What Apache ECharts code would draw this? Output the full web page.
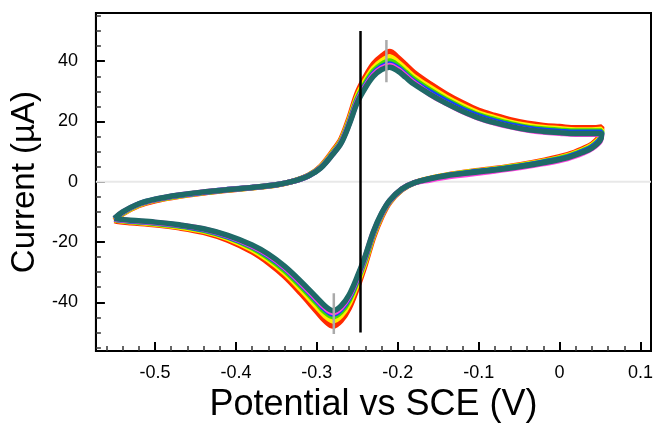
<!DOCTYPE html>
<html>
<head>
<meta charset="utf-8">
<script src="https://cdn.jsdelivr.net/npm/echarts@6/dist/echarts.min.js"></script>
<style>html,body{margin:0;padding:0;background:#fff}#chart{width:656px;height:428px}</style>
</head>
<body>
<div id="chart"></div>
<script>
// Potential (V) for one full cycle: forward scan then reverse scan
const potential = [
  -0.55,-0.54,-0.52,-0.50,-0.47,-0.44,-0.41,-0.38,-0.35,-0.33,-0.31,-0.295,-0.28,-0.27,-0.26,-0.25,-0.24,-0.23,-0.22,-0.21,-0.20,-0.19,-0.18,-0.16,-0.14,-0.12,-0.10,-0.08,-0.06,-0.04,-0.02,0.00,0.02,0.04,0.052,
  0.05,0.04,0.03,0.01,-0.02,-0.05,-0.08,-0.11,-0.14,-0.16,-0.18,-0.195,-0.21,-0.22,-0.23,-0.24,-0.25,-0.26,-0.27,-0.28,-0.29,-0.30,-0.32,-0.34,-0.36,-0.38,-0.41,-0.44,-0.47,-0.50,-0.53,-0.545,-0.55
];
// Current (µA) for each cycle
const cycleRed = [
  -12.9,-10.7,-7.9,-6.3,-4.8,-3.7,-2.8,-2.0,-1.1,0.1,2.2,5.2,10.3,14.3,21.3,29.5,34.9,39.2,41.7,43.2,41.3,38.8,36.3,32.5,29.1,26.2,23.7,22.0,20.5,19.4,18.7,18.3,17.9,17.9,18.2,
  15.2,12.5,11.1,9.0,7.1,5.6,4.4,3.4,2.2,1.1,-0.4,-2.7,-6.9,-11.8,-18.5,-27.4,-35.3,-42.0,-46.1,-47.9,-46.1,-43.1,-37.0,-31.4,-26.9,-23.3,-19.4,-16.8,-15.3,-14.3,-13.6,-13.2,-12.9
];
const cycleYellow = [
  -12.6,-10.5,-7.7,-6.1,-4.7,-3.6,-2.7,-2.0,-1.1,0.1,2.1,5.0,9.9,13.8,20.5,28.4,33.6,37.7,40.1,41.4,39.7,37.3,34.9,31.3,28.0,25.2,22.8,21.2,19.7,18.7,18.0,17.6,17.2,17.2,17.4,
  14.6,12.1,10.7,8.7,6.8,5.4,4.2,3.3,2.1,1.1,-0.4,-2.6,-6.7,-11.3,-17.8,-26.4,-34.0,-40.4,-44.4,-46.1,-44.4,-41.5,-35.6,-30.2,-25.9,-22.5,-18.8,-16.4,-15.0,-14.0,-13.3,-12.9,-12.6
];
const cycleGreen = [
  -12.4,-10.3,-7.5,-6.0,-4.6,-3.5,-2.7,-1.9,-1.0,0.1,2.1,4.8,9.6,13.4,19.9,27.6,32.7,36.7,39.0,40.1,38.6,36.3,34.0,30.4,27.2,24.5,22.2,20.6,19.2,18.1,17.5,17.1,16.8,16.8,16.8,
  14.2,11.7,10.4,8.4,6.6,5.2,4.1,3.2,2.1,1.0,-0.4,-2.5,-6.5,-11.0,-17.3,-25.7,-33.0,-39.3,-43.2,-44.8,-43.2,-40.3,-34.6,-29.4,-25.2,-21.9,-18.4,-16.1,-14.7,-13.8,-13.1,-12.7,-12.4
];
const cycleBlue = [
  -12.3,-10.2,-7.4,-5.9,-4.5,-3.5,-2.6,-1.9,-1.0,0.1,2.0,4.7,9.4,13.1,19.5,27.0,32.0,35.9,38.2,39.1,37.8,35.5,33.3,29.8,26.7,24.0,21.8,20.1,18.8,17.8,17.1,16.7,16.4,16.4,16.4,
  14.0,11.5,10.2,8.2,6.5,5.1,4.0,3.1,2.0,1.0,-0.4,-2.5,-6.4,-10.8,-16.9,-25.1,-32.3,-38.5,-42.3,-43.9,-42.3,-39.5,-33.9,-28.7,-24.6,-21.5,-18.2,-15.9,-14.5,-13.6,-13.0,-12.6,-12.3
];
const cycleMagenta = [
  -12.2,-10.1,-7.4,-5.9,-4.4,-3.4,-2.6,-1.9,-1.0,0.1,2.0,4.7,9.3,13.0,19.3,26.7,31.6,35.5,37.7,38.6,37.3,35.1,32.9,29.0,26.0,23.3,21.1,19.5,18.2,17.2,16.5,16.1,15.8,15.8,15.8,
  13.4,11.0,9.6,7.7,6.0,4.7,3.6,2.6,1.6,0.6,-0.4,-2.4,-6.3,-10.7,-16.7,-24.8,-32.0,-38.0,-41.8,-43.4,-41.8,-39.1,-33.5,-28.4,-24.3,-21.3,-18.0,-15.7,-14.4,-13.5,-12.9,-12.5,-12.2
];
const cycleTeal = [
  -12.1,-10.0,-7.3,-5.8,-4.4,-3.4,-2.6,-1.9,-1.0,0.1,2.0,4.6,9.2,12.8,19.0,26.3,31.2,35.0,37.2,38.0,36.8,34.6,32.4,29.0,26.0,23.4,21.2,19.6,18.3,17.3,16.7,16.3,16.0,16.0,15.9,
  13.6,11.2,9.9,8.0,6.3,5.0,3.9,3.0,2.0,1.0,-0.4,-2.4,-6.2,-10.5,-16.5,-24.5,-31.5,-37.5,-41.2,-42.8,-41.2,-38.5,-33.0,-28.0,-24.0,-21.0,-17.8,-15.6,-14.3,-13.4,-12.8,-12.4,-12.1
];
const cycles = [cycleRed, cycleYellow, cycleGreen, cycleBlue, cycleMagenta, cycleTeal];
const cycleColors = ['#ff2a00', '#ffee00', '#44dd00', '#1040ff', '#ff40e0', '#1f6a68'];

// Reference lines (potential, [current from, current to])
const midLineX = -0.246, midLineY = [-50, 50];
const anodicPeakX = -0.214, anodicPeakY = [33, 47];
const cathodicPeakX = -0.279, cathodicPeakY = [-50.5, -37];

// Axes
const xRange = [-0.573, 0.113];
const yRange = [-56.2, 56];
const xMajorTicks = [-0.5, -0.4, -0.3, -0.2, -0.1, 0, 0.1];
const xMinorTicks = [-0.56,-0.54,-0.52,-0.48,-0.46,-0.44,-0.42,-0.38,-0.36,-0.34,-0.32,-0.28,-0.26,-0.24,-0.22,-0.18,-0.16,-0.14,-0.12,-0.08,-0.06,-0.04,-0.02,0.02,0.04,0.06,0.08];
const yMajorTicks = [-40, -20, 0, 20, 40];
const yMinorTicks = [-55,-50,-45,-35,-30,-25,-15,-10,-5,5,10,15,25,30,35,45,50,55];

const FONT = '"Liberation Sans", Arial, Helvetica, sans-serif';
const chart = echarts.init(document.getElementById('chart'));

const pair = (xs, ys) => xs.map((x, i) => [x, ys[i]]);
const series = [];
series.push({
  type: 'line', data: [[xRange[0], 0], [xRange[1], 0]], symbol: 'none', silent: true, z: 1,
  lineStyle: { color: '#e8e8e8', width: 2 }
});
cycles.forEach((c, i) => {
  series.push({
    type: 'line', data: pair(potential, c), symbol: 'none', smooth: 0.35, z: 2,
    lineStyle: { color: cycleColors[i], width: 5.5 }
  });
});
[[midLineX, midLineY, '#000000'], [anodicPeakX, anodicPeakY, '#aaaaaa'], [cathodicPeakX, cathodicPeakY, '#aaaaaa']].forEach(([x, ys, col]) => {
  series.push({
    type: 'line', data: [[x, ys[0]], [x, ys[1]]], symbol: 'none', z: 5,
    lineStyle: { color: col, width: 2.5 }
  });
});

chart.setOption({
  animation: false,
  grid: { left: 94, right: 5, top: 13, bottom: 74, show: true, borderColor: '#000', borderWidth: 2, backgroundColor: '#fff' },
  xAxis: [
    {
      type: 'value', min: xRange[0], max: xRange[1], position: 'bottom',
      name: 'Potential vs SCE (V)', nameLocation: 'middle', nameGap: 30,
      nameTextStyle: { fontFamily: FONT, fontSize: 36, color: '#000' },
      axisLine: { show: true, onZero: false, lineStyle: { color: '#000', width: 2 } },
      axisTick: { inside: true, length: 9, lineStyle: { color: '#000', width: 2 }, customValues: xMajorTicks },
      axisLabel: { customValues: xMajorTicks, margin: 13, fontFamily: FONT, fontSize: 18, color: '#000', formatter: v => String(v) },
      splitLine: { show: false }
    },
    {
      type: 'value', min: xRange[0], max: xRange[1], position: 'bottom',
      axisLine: { show: false, onZero: false },
      axisTick: { show: true, inside: true, length: 5, lineStyle: { color: '#333', width: 1.5 }, customValues: xMinorTicks },
      axisLabel: { show: false }, splitLine: { show: false }
    }
  ],
  yAxis: [
    {
      type: 'value', min: yRange[0], max: yRange[1], position: 'left',
      name: 'Current (µA)', nameLocation: 'middle', nameGap: 38,
      nameTextStyle: { fontFamily: FONT, fontSize: 33, color: '#000' },
      axisLine: { show: true, onZero: false, lineStyle: { color: '#000', width: 2 } },
      axisTick: { inside: true, length: 9, lineStyle: { color: '#000', width: 2 }, customValues: yMajorTicks },
      axisLabel: { customValues: yMajorTicks, margin: 18, fontFamily: FONT, fontSize: 18, color: '#000', formatter: v => String(v) },
      splitLine: { show: false }
    },
    {
      type: 'value', min: yRange[0], max: yRange[1], position: 'left',
      axisLine: { show: false, onZero: false },
      axisTick: { show: true, inside: true, length: 5, lineStyle: { color: '#333', width: 1.5 }, customValues: yMinorTicks },
      axisLabel: { show: false }, splitLine: { show: false }
    }
  ],
  series: series
});
</script>
</body>
</html>
